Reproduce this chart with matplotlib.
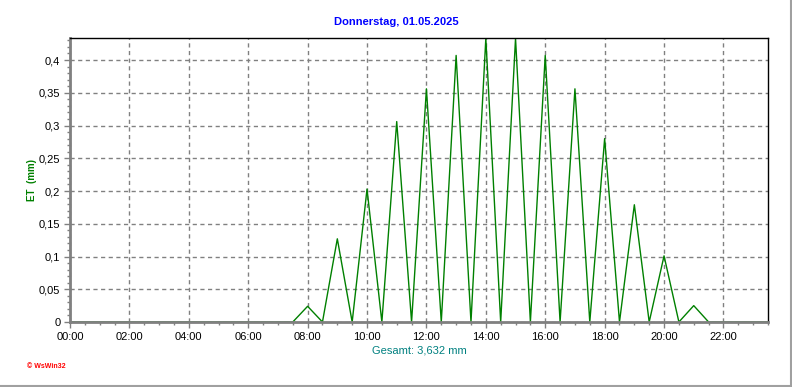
import matplotlib.pyplot as plt
from matplotlib.lines import Line2D
from matplotlib.ticker import MultipleLocator, FuncFormatter

# half-hourly ET values (mm), 00:00 .. 23:30
hours = [h / 2 for h in range(48)]
et = [0, 0, 0, 0, 0, 0, 0, 0,          # 00:00 - 03:30
      0, 0, 0, 0, 0, 0, 0, 0,          # 04:00 - 07:30
      0.024, 0, 0.127, 0, 0.203, 0,    # 08:00 - 10:30
      0.306, 0, 0.356, 0, 0.407, 0,    # 11:00 - 13:30
      0.433, 0, 0.433, 0, 0.407, 0,    # 14:00 - 16:30
      0.356, 0, 0.280, 0, 0.179, 0,    # 17:00 - 19:30
      0.101, 0, 0.025, 0,              # 20:00 - 21:30
      0, 0, 0, 0]                      # 22:00 - 23:30
xtick_pos = list(range(0, 23, 2))
xtick_labels = ['%02d:00' % h for h in xtick_pos]
title = 'Donnerstag, 01.05.2025'
total = 'Gesamt: 3,632 mm'

plt.rcParams['font.family'] = ['Liberation Sans', 'DejaVu Sans']

fig = plt.figure(figsize=(7.92, 3.87), dpi=100)
ax = fig.add_axes([70 / 792, 1 - 322 / 387, 698 / 792, 284 / 387])

ax.plot(hours, et, color='#008000', lw=1.0)

ax.set_xlim(0, 23.5)
ax.set_ylim(0, 0.4336)
ax.set_xticks(xtick_pos)
ax.set_xticklabels(xtick_labels)
ax.xaxis.set_minor_locator(MultipleLocator(0.5))
ax.yaxis.set_major_locator(MultipleLocator(0.05))
ax.yaxis.set_minor_locator(MultipleLocator(0.01))
ax.yaxis.set_major_formatter(FuncFormatter(lambda v, p: ('%g' % round(v, 2)).replace('.', ',')))

ax.tick_params(axis='both', which='major', labelsize=8, color='#808080', length=4, width=1, pad=3)
ax.tick_params(axis='both', which='minor', color='#808080', length=2, width=1)

ax.grid(True, which='major', color='#808080', ls=(0, (3, 2.5)), lw=1)
for s in ('left', 'bottom'):
    ax.spines[s].set_color('#808080')
    ax.spines[s].set_linewidth(2)
for s in ('top', 'right'):
    ax.spines[s].set_color('black')
    ax.spines[s].set_linewidth(1)

fig.text(0.5, 1 - 22 / 387, title, color='#0000ff', fontsize=8, fontweight='bold',
         ha='center', va='center')
ax.set_xlabel(total, color='#008080', fontsize=8, labelpad=3)
fig.text(32 / 792, 1 - 180 / 387, 'ET  (mm)', color='#008000', fontsize=7, fontweight='bold',
         rotation=90, ha='center', va='center')
fig.text(27 / 792, 1 - 367 / 387, '© WsWin32', color='#ff0000', fontsize=5, fontweight='bold',
         ha='left', va='center')

# sunken frame on right and bottom
fig.add_artist(Line2D([790.5 / 792, 790.5 / 792], [1.5 / 387, 1], color='#a0a0a0', lw=1.5))
fig.add_artist(Line2D([0, 790.5 / 792], [1.5 / 387, 1.5 / 387], color='#a0a0a0', lw=1.5))

fig.savefig('out.png', dpi=100)
